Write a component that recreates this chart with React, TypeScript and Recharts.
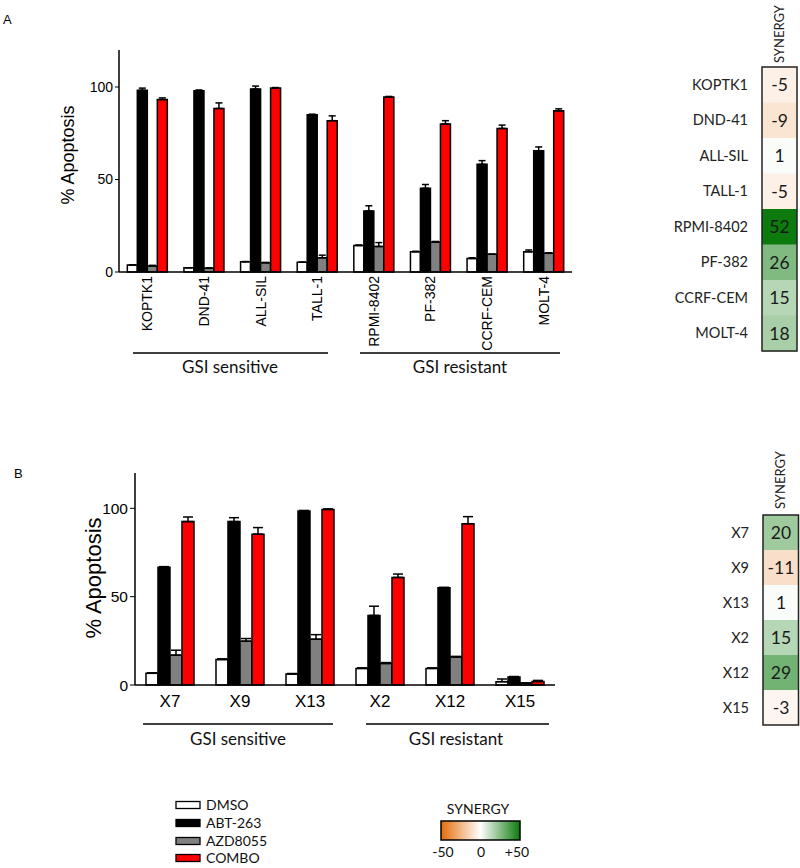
import React from 'react';
import { BarChart, Bar, XAxis, YAxis, ErrorBar, Cell, LabelList } from 'recharts';

// panel A: cell lines
const cellLines = ['KOPTK1', 'DND-41', 'ALL-SIL', 'TALL-1', 'RPMI-8402', 'PF-382', 'CCRF-CEM', 'MOLT-4'];
const dmsoA = [3.8, 2.3, 5.6, 5.3, 14.3, 10.9, 7.3, 10.9];
const dmsoErrA = [0, 0, 0, 0, 0.3, 0.3, 0.4, 1];
const abtA = [98.2, 98, 98.9, 85, 33, 45.3, 58.2, 65.5];
const abtErrA = [1.2, 0.4, 1.6, 0.3, 2.8, 2, 2, 2.1];
const azdA = [3.3, 2, 5, 7.7, 13.8, 16.2, 9.6, 10.1];
const azdErrA = [0.3, 0.2, 0.2, 1.4, 2.1, 0.3, 0, 0.3];
const comboA = [93.2, 88.4, 99.4, 81.8, 94.6, 80, 77.6, 87.1];
const comboErrA = [0.9, 3, 0.3, 2.6, 0.3, 1.8, 1.8, 1.1];
const synergyA = [-5, -9, 1, -5, 52, 26, 15, 18];

// panel B: xenografts
const pdx = ['X7', 'X9', 'X13', 'X2', 'X12', 'X15'];
const dmsoB = [6.6, 14.4, 6.2, 9.4, 9.4, 1.9];
const dmsoErrB = [0.3, 0.4, 0.3, 0.3, 0.3, 1.5];
const abtB = [66.6, 92.5, 98.5, 39.4, 55, 4.5];
const abtErrB = [0.4, 2.2, 0.3, 5.2, 0.3, 0.3];
const azdB = [16.9, 24.8, 25.9, 12.2, 15.9, 1];
const azdErrB = [2.8, 1.5, 2.6, 0.5, 0.3, 0.2];
const comboB = [92.5, 85.4, 99.4, 60.9, 91.3, 2];
const comboErrB = [2.6, 3.7, 0.3, 1.9, 4, 0.6];
const synergyB = [20, -11, 1, 15, 29, -3];

const yTicks = [0, 50, 100];

const treatments = [
  { key: 'dmso', name: 'DMSO', fill: '#ffffff' },
  { key: 'abt', name: 'ABT-263', fill: '#000000' },
  { key: 'azd', name: 'AZD8055', fill: '#808080' },
  { key: 'combo', name: 'COMBO', fill: '#ff0000' },
];

const ARIAL = '"Liberation Sans", Arial, sans-serif';
const CALIBRI = 'Lato, "Open Sans", sans-serif';

const buildRows = (names: string[], d: number[], de: number[], a: number[], ae: number[], z: number[], ze: number[], c: number[], ce: number[]) =>
  names.map((name, i) => ({
    name,
    dmso: d[i], dmsoErr: [0, de[i]],
    abt: a[i], abtErr: [0, ae[i]],
    azd: z[i], azdErr: [0, ze[i]],
    combo: c[i], comboErr: [0, ce[i]],
  }));

const dataA = buildRows(cellLines, dmsoA, dmsoErrA, abtA, abtErrA, azdA, azdErrA, comboA, comboErrA);
const dataB = buildRows(pdx, dmsoB, dmsoErrB, abtB, abtErrB, azdB, azdErrB, comboB, comboErrB);
const heatA = cellLines.map((name, i) => ({ name, v: 1, syn: synergyA[i] }));
const heatB = pdx.map((name, i) => ({ name, v: 1, syn: synergyB[i] }));

const ORANGE = [228, 108, 10];
const GREEN = [12, 122, 12];
const synergyColor = (s: number) => {
  const t = Math.min(1, Math.abs(s) / 50);
  const end = s < 0 ? ORANGE : GREEN;
  const c = end.map((v) => Math.round(255 + (v - 255) * t));
  return `rgb(${c[0]},${c[1]},${c[2]})`;
};

const RotatedTick = (props: any) => {
  const { x, y, payload } = props;
  return (
    <text x={x} y={y} transform={`rotate(-90 ${x} ${y})`} textAnchor="end" dominantBaseline="central"
      fontSize={14} fontFamily={ARIAL} fill="#000">
      {payload.value}
    </text>
  );
};

const renderBars = (capWidth: number) =>
  treatments.map((t) => (
    <Bar key={t.key} dataKey={t.key} fill={t.fill} stroke="#000" strokeWidth={1.5} isAnimationActive={false}>
      <ErrorBar dataKey={`${t.key}Err`} direction="y" width={capWidth} stroke="#000" strokeWidth={1.5} />
    </Bar>
  ));

const Heatmap = ({ data, width, height, margin, axisWidth }: any) => (
  <BarChart layout="vertical" width={width} height={height} data={data} margin={margin} barCategoryGap={0}>
    <XAxis type="number" domain={[0, 1]} hide />
    <YAxis type="category" dataKey="name" width={axisWidth} axisLine={false} tickLine={false} tickMargin={8}
      tick={{ fontSize: 14.5, fill: '#222', fontFamily: CALIBRI }} interval={0} />
    <Bar dataKey="v" isAnimationActive={false}>
      {data.map((d: any) => (
        <Cell key={d.name} fill={synergyColor(d.syn)} />
      ))}
      <LabelList dataKey="syn" position="center" fill="#1a1a1a" fontSize={17.5} fontFamily={CALIBRI} />
    </Bar>
  </BarChart>
);

export default function App() {
  const legendRows = [805, 823, 841, 858];
  return (
    <div style={{ position: 'absolute', left: 0, top: 0, width: 800, height: 868, background: '#fff', overflow: 'hidden' }}>
      <div style={{ position: 'absolute', left: 0, top: 0 }}>
        <BarChart width={600} height={360} data={dataA} margin={{ top: 50, right: 28, bottom: 8, left: 69 }}
          barCategoryGap="14.7%" barGap={0}>
          <XAxis dataKey="name" height={80} interval={0} tickLine={false} tickSize={0} tickMargin={4}
            axisLine={{ stroke: '#000', strokeWidth: 1.5 }} tick={<RotatedTick />} />
          <YAxis width={50} domain={[0, 120]} ticks={yTicks} tickSize={4} tickMargin={2}
            axisLine={{ stroke: '#000', strokeWidth: 1.5 }} tickLine={{ stroke: '#000' }}
            tick={{ fontSize: 14, fill: '#000', fontFamily: ARIAL }} />
          {renderBars(3.5)}
        </BarChart>
      </div>

      <div style={{ position: 'absolute', left: 600, top: 0 }}>
        <Heatmap data={heatA} width={200} height={360} axisWidth={162} margin={{ top: 67, right: 3, bottom: 9, left: 0 }} />
      </div>

      <div style={{ position: 'absolute', left: 0, top: 450 }}>
        <BarChart width={600} height={300} data={dataB} margin={{ top: 23, right: 45, bottom: 30, left: 80 }}
          barCategoryGap="15.7%" barGap={0}>
          <XAxis dataKey="name" height={35} interval={0} tickLine={false} tickSize={0} tickMargin={10}
            axisLine={{ stroke: '#000', strokeWidth: 1.5 }}
            tick={{ fontSize: 17, fill: '#000', fontFamily: ARIAL }} />
          <YAxis width={55} domain={[0, 120]} ticks={yTicks} tickSize={5} tickMargin={2}
            axisLine={{ stroke: '#000', strokeWidth: 1.5 }} tickLine={{ stroke: '#000' }}
            tick={{ fontSize: 15.5, fill: '#000', fontFamily: ARIAL }} />
          {renderBars(5)}
        </BarChart>
      </div>

      <div style={{ position: 'absolute', left: 600, top: 450 }}>
        <Heatmap data={heatB} width={200} height={300} axisWidth={163} margin={{ top: 65, right: 1, bottom: 25, left: 0 }} />
      </div>

      <svg width={800} height={868} style={{ position: 'absolute', left: 0, top: 0, pointerEvents: 'none' }}>
        <defs>
          <linearGradient id="synGrad" x1="0" x2="1" y1="0" y2="0">
            <stop offset="0%" stopColor={synergyColor(-50)} />
            <stop offset="50%" stopColor="#ffffff" />
            <stop offset="100%" stopColor={synergyColor(50)} />
          </linearGradient>
        </defs>
        <text x={3} y={24} fontSize={13} fontFamily={ARIAL}>A</text>
        <text x={14} y={478} fontSize={13} fontFamily={ARIAL}>B</text>

        <text x={68} y={155} transform="rotate(-90 68 155)" textAnchor="middle" dominantBaseline="central"
          fontSize={18} fontFamily={ARIAL}>% Apoptosis</text>
        <text x={93} y={578} transform="rotate(-90 93 578)" textAnchor="middle" dominantBaseline="central"
          fontSize={22} fontFamily={ARIAL}>% Apoptosis</text>

        <g stroke="#000" strokeWidth={1.5}>
          <line x1={133} y1={353} x2={328} y2={353} />
          <line x1={360} y1={353} x2={560} y2={353} />
          <line x1={143} y1={724} x2={333} y2={724} />
          <line x1={366} y1={724} x2={549} y2={724} />
        </g>
        <g fontSize={17} fontFamily={CALIBRI} textAnchor="middle" fill="#111">
          <text x={230} y={373}>GSI sensitive</text>
          <text x={460} y={373}>GSI resistant</text>
          <text x={238} y={745}>GSI sensitive</text>
          <text x={456} y={745}>GSI resistant</text>
        </g>

        <g fontSize={13} fontFamily={CALIBRI} fill="#222">
          <text x={779} y={63} transform="rotate(-90 779 63)" dominantBaseline="central">SYNERGY</text>
          <text x={780} y={509} transform="rotate(-90 780 509)" dominantBaseline="central">SYNERGY</text>
        </g>
        <rect x={762} y={67} width={35} height={284} fill="none" stroke="#222" strokeWidth={1.5} />
        <rect x={763} y={515} width={35.5} height={210} fill="none" stroke="#222" strokeWidth={1.5} />

        {treatments.map((t, i) => (
          <g key={t.key}>
            <rect x={176} y={legendRows[i] - 3.5} width={24} height={7} fill={t.fill} stroke="#000" strokeWidth={1.3} />
            <text x={206} y={legendRows[i] + 5} fontSize={14} fontFamily={CALIBRI} fill="#111">{t.name}</text>
          </g>
        ))}

        <text x={478} y={814} textAnchor="middle" fontSize={14} fontFamily={CALIBRI} fill="#111">SYNERGY</text>
        <rect x={441} y={821} width={79} height={19} fill="url(#synGrad)" stroke="#000" strokeWidth={1.5} />
        <g fontSize={14} fontFamily={CALIBRI} textAnchor="middle" fill="#111">
          <text x={443} y={857}>-50</text>
          <text x={481} y={857}>0</text>
          <text x={517} y={857}>+50</text>
        </g>
      </svg>
    </div>
  );
}
